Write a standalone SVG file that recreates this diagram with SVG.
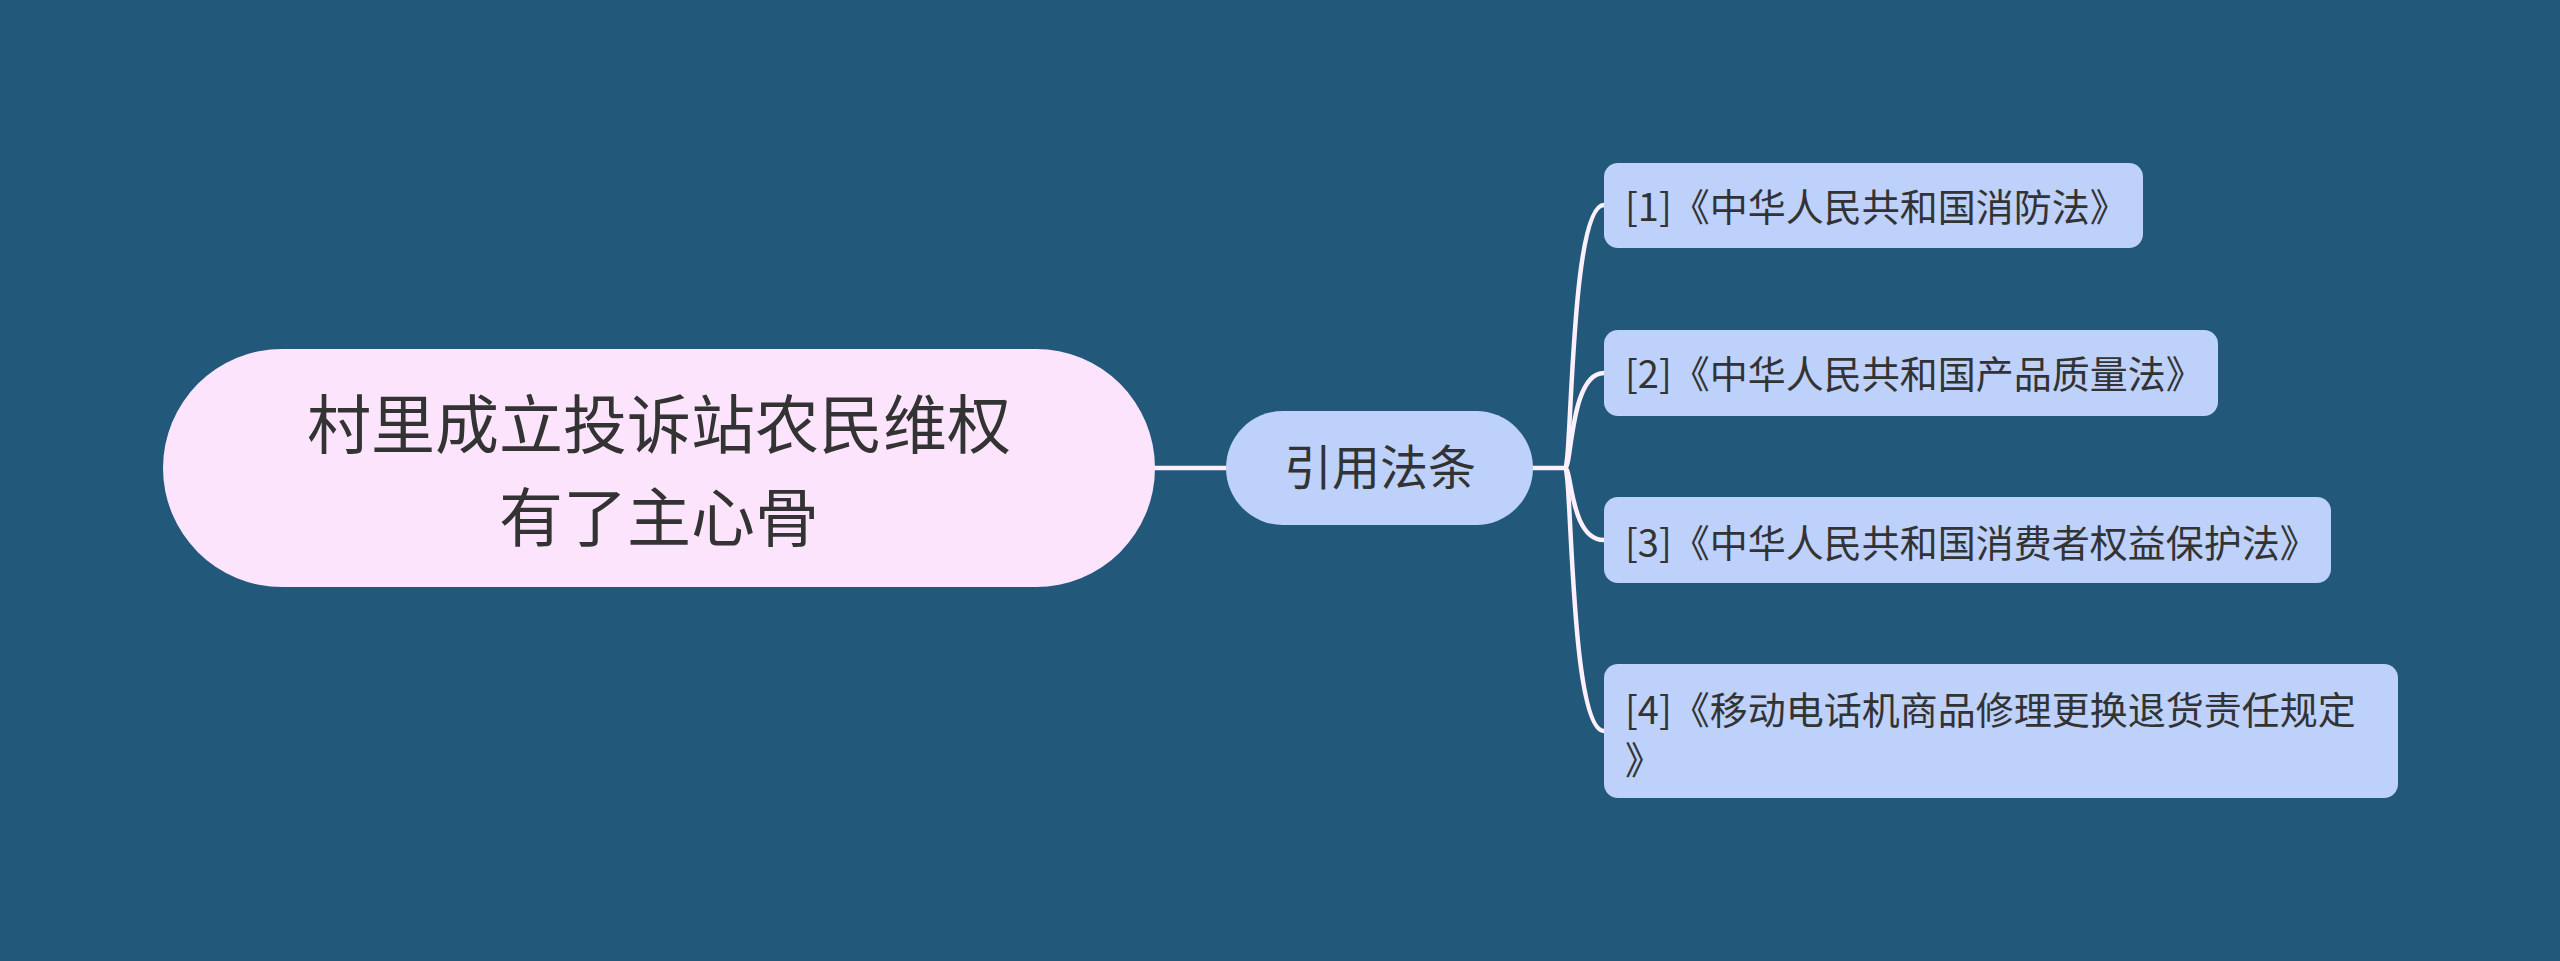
<svg xmlns="http://www.w3.org/2000/svg" width="2560" height="961" viewBox="0 0 2560 961">
<style>
.bg{fill:#22587a}
.root{fill:#fde4fd}
.node{fill:#bdd1fb}
.t{font-family:"Noto Sans CJK SC","Noto Sans",sans-serif;fill:#333333}
.conn{fill:none;stroke:#fdf0fd;stroke-width:4.5;stroke-linecap:round}
</style>
<rect class="bg" x="0" y="0" width="2560" height="961"/>
<g id="connectors">
<path class="conn" d="M1155,468 H1226"/>
<path class="conn" d="M1533,468 H1565"/>
<path class="conn" d="M1565,468 C1572,468 1570,205 1604,205"/>
<path class="conn" d="M1565,468 C1572,468 1570,373 1604,373"/>
<path class="conn" d="M1565,468 C1572,468 1570,540 1604,540"/>
<path class="conn" d="M1565,468 C1572,468 1570,731 1604,731"/>
</g>
<g id="root">
<rect class="root" x="163" y="349" width="992" height="238" rx="119" ry="119"/>
<text class="t" x="659" y="448" font-size="64" text-anchor="middle">村里成立投诉站农民维权</text>
<text class="t" x="659" y="541" font-size="64" text-anchor="middle">有了主心骨</text>
</g>
<g id="mid">
<rect class="node" x="1226" y="411" width="307" height="114" rx="57" ry="57"/>
<text class="t" x="1380" y="485" font-size="48" text-anchor="middle">引用法条</text>
</g>
<g id="leaf1">
<rect class="node" x="1604" y="163" width="539" height="85" rx="14" ry="14"/>
<text class="t" x="1625" y="221" font-size="38">[1]《中华人民共和国消防法》</text>
</g>
<g id="leaf2">
<rect class="node" x="1604" y="330" width="614" height="86" rx="14" ry="14"/>
<text class="t" x="1625" y="388" font-size="38">[2]《中华人民共和国产品质量法》</text>
</g>
<g id="leaf3">
<rect class="node" x="1604" y="497" width="727" height="86" rx="14" ry="14"/>
<text class="t" x="1625" y="557" font-size="38">[3]《中华人民共和国消费者权益保护法》</text>
</g>
<g id="leaf4">
<rect class="node" x="1604" y="664" width="794" height="134" rx="14" ry="14"/>
<text class="t" x="1625" y="724" font-size="38">[4]《移动电话机商品修理更换退货责任规定</text>
<text class="t" x="1625" y="774" font-size="38">》</text>
</g>
</svg>
